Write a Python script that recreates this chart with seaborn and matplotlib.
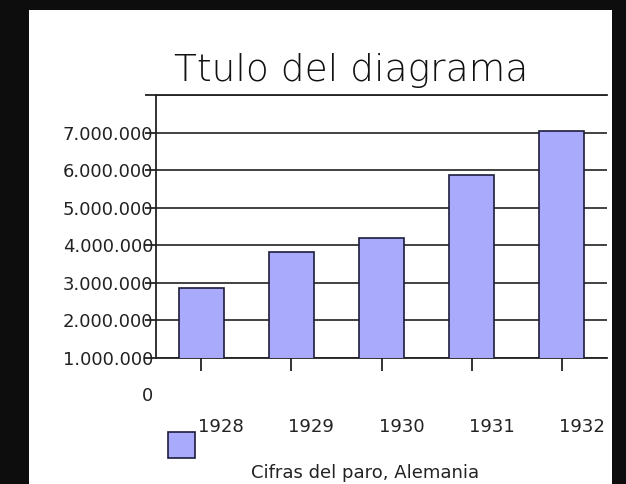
import matplotlib
matplotlib.use("Agg")
import matplotlib.pyplot as plt
from matplotlib.patches import Rectangle
import seaborn as sns
import pandas as pd

# datos
years = ["1928", "1929", "1930", "1931", "1932"]
parados = [2850000, 3820000, 4190000, 5860000, 7030000]
yticks = [1000000, 2000000, 3000000, 4000000, 5000000, 6000000, 7000000, 8000000]
ytick_labels = ["1.000.000", "2.000.000", "3.000.000", "4.000.000",
                "5.000.000", "6.000.000", "7.000.000", ""]

df = pd.DataFrame({"year": years, "parados": parados})

sns.set_style("white")
plt.rcParams["font.family"] = ["DejaVu Sans"]

fig = plt.figure(figsize=(6.26, 4.84), dpi=100)
fig.patch.set_facecolor("#0d0d0d")
fig.patches.append(Rectangle((29 / 626, 0), 583 / 626, 474 / 484,
                             transform=fig.transFigure, facecolor="white",
                             edgecolor="none", zorder=-5))

ax = fig.add_axes([156 / 626, 1 - 358 / 484, 451 / 626, 263 / 484])
ax.set_facecolor("none")

bar_color = "#aaaafc"
sns.barplot(data=df, x="year", y="parados", color=bar_color, saturation=1,
            width=0.5, edgecolor="#1c1c3c", linewidth=1.2, ax=ax, zorder=3)

ax.set_xlim(-0.5, 4.5)
ax.set_ylim(1000000, 8000000)
ax.set_yticks(yticks)
ax.set_yticklabels(ytick_labels, fontsize=13, color="#222222")
ax.yaxis.grid(True, color="#333333", linewidth=1.3)
ax.set_axisbelow(True)

for side in ["left", "top", "bottom"]:
    ax.spines[side].set_visible(True)
    ax.spines[side].set_color("#222222")
    ax.spines[side].set_linewidth(1.3)
ax.spines["right"].set_visible(False)

ax.tick_params(axis="y", left=True, length=8, width=1.3, color="#222222", pad=-6)
ax.tick_params(axis="x", bottom=True, length=9, width=1.3, color="#222222",
               labelbottom=False)
ax.set_xlabel("")
ax.set_ylabel("")

# etiquetas de años desplazadas como en el original
for i, yr in enumerate(years):
    ax.text(i + 0.22, -0.262, yr, transform=ax.get_xaxis_transform(),
            ha="center", va="center", fontsize=13, color="#222222")

# el "0" fuera del eje
ax.text(-0.006, 0, "0", transform=ax.get_yaxis_transform(), ha="right",
        va="center", fontsize=13, color="#222222", clip_on=False)

fig.text(351 / 626, 1 - 70 / 484, "Ttulo del diagrama", ha="center",
         va="center", fontsize=27, fontweight="light", color="#111111")

# leyenda
fig.patches.append(Rectangle((168 / 626, 1 - 458 / 484), 27 / 626, 26 / 484,
                             transform=fig.transFigure, facecolor=bar_color,
                             edgecolor="#1c1c3c", linewidth=1.2, zorder=2))
fig.text(365 / 626, 1 - 473 / 484, "Cifras del paro, Alemania", ha="center",
         va="center", fontsize=13, color="#222222")

fig.savefig("out.png", dpi=100, facecolor=fig.get_facecolor())
